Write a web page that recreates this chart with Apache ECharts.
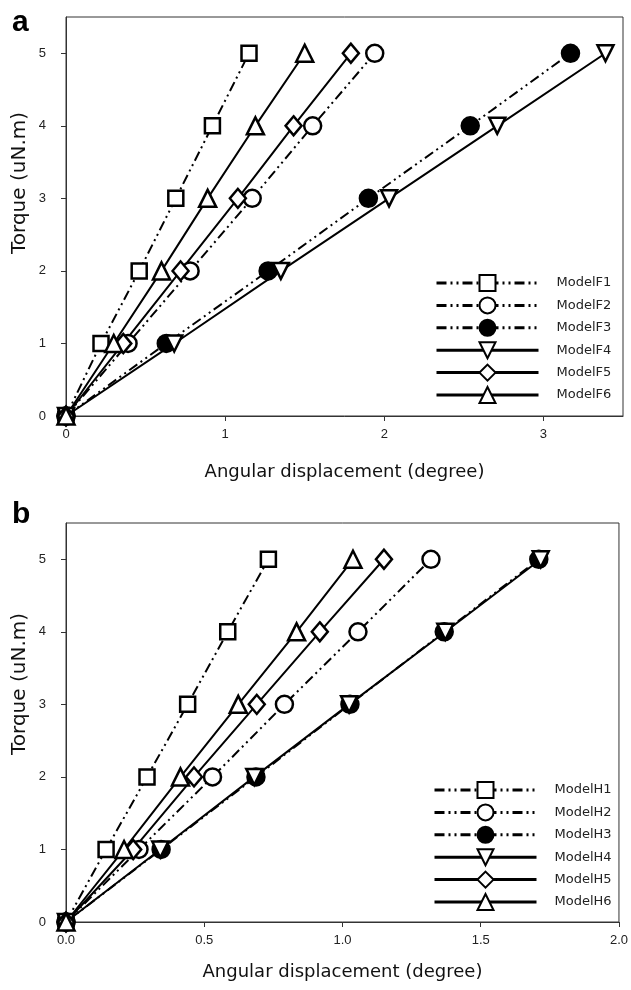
<!DOCTYPE html>
<html lang="en">
  <head>
    <meta charset="UTF-8" />
    <title>Torque vs angular displacement</title>
    <script src="https://cdn.jsdelivr.net/npm/echarts@6.0.0/dist/echarts.min.js"></script>
    <style>
      body {
        margin: 0;
        padding: 0;
        background: #fff;
      }
      #main {
        width: 631px;
        height: 990px;
      }
    </style>
  </head>
  <body>
    <div id="main"></div>

    <script>
      // torque levels (uN.m), shared by every model
      const torque = [0, 1, 2, 3, 4, 5];

      // panel a: angular displacement (degree)
      const modelF1 = [0, 0.22, 0.46, 0.69, 0.92, 1.15];
      const modelF2 = [0, 0.39, 0.78, 1.17, 1.55, 1.94];
      const modelF3 = [0, 0.63, 1.27, 1.9, 2.54, 3.17];
      const modelF4 = [0, 0.68, 1.35, 2.03, 2.71, 3.39];
      const modelF5 = [0, 0.36, 0.72, 1.08, 1.43, 1.79];
      const modelF6 = [0, 0.3, 0.6, 0.89, 1.19, 1.5];

      // panel b
      const modelH1 = [0, 0.145, 0.293, 0.44, 0.585, 0.732];
      const modelH2 = [0, 0.264, 0.53, 0.79, 1.056, 1.32];
      const modelH3 = [0, 0.344, 0.687, 1.027, 1.368, 1.71];
      const modelH4 = [0, 0.341, 0.681, 1.024, 1.372, 1.717];
      const modelH5 = [0, 0.243, 0.463, 0.69, 0.918, 1.15];
      const modelH6 = [0, 0.21, 0.414, 0.623, 0.834, 1.038];

      const namesA = ["ModelF1", "ModelF2", "ModelF3", "ModelF4", "ModelF5", "ModelF6"];
      const namesB = ["ModelH1", "ModelH2", "ModelH3", "ModelH4", "ModelH5", "ModelH6"];
      const xTicksA = [0, 1, 2, 3];
      const xTicksB = [0, 0.5, 1, 1.5, 2];
      const yTicks = [0, 1, 2, 3, 4, 5];

      const dashDotDot = [10, 4, 2, 4, 2, 4];
      // marker + line style per model slot (1..6)
      const looks = [
        { symbol: "rect", size: 15, fill: "#fff", dash: dashDotDot },
        { symbol: "circle", size: 17, fill: "#fff", dash: dashDotDot },
        { symbol: "circle", size: 17, fill: "#000", dash: dashDotDot },
        { symbol: "triangle", size: 16, fill: "#fff", dash: "solid", rotate: 180 },
        { symbol: "diamond", size: [16, 19], fill: "#fff", dash: "solid" },
        { symbol: "triangle", size: 17, fill: "#fff", dash: "solid" },
      ];

      function pairs(xs) {
        return xs.map((x, i) => [x, torque[i]]);
      }

      function makeSeries(name, xs, look, axisIdx) {
        return {
          name: name,
          type: "line",
          xAxisIndex: axisIdx,
          yAxisIndex: axisIdx,
          data: pairs(xs),
          symbol: look.symbol,
          symbolSize: look.size,
          symbolRotate: look.rotate || 0,
          showAllSymbol: true,
          animation: false,
          lineStyle: { color: "#000", width: 2, type: look.dash, cap: "butt" },
          itemStyle: { color: look.fill, borderColor: "#000", borderWidth: 2.5 },
          emphasis: { disabled: true },
        };
      }

      const seriesA = [modelF1, modelF2, modelF3, modelF4, modelF5, modelF6];
      const seriesB = [modelH1, modelH2, modelH3, modelH4, modelH5, modelH6];

      const labelFont = { color: "#222", fontSize: 13, fontFamily: "Liberation Sans, Arial, sans-serif" };

      function xAxisFor(grid, max, ticks, fmt, gap) {
        return {
          type: "value",
          gridIndex: grid,
          min: 0,
          max: max,
          name: "Angular displacement (degree)",
          nameLocation: "middle",
          nameGap: gap,
          nameTextStyle: { color: "#111", fontSize: 18, fontFamily: "DejaVu Sans, sans-serif" },
          axisLine: { onZero: false, lineStyle: { color: "#333", width: 1 } },
          axisTick: { show: true, length: 5, customValues: ticks, lineStyle: { color: "#333" } },
          axisLabel: Object.assign({ margin: 12, customValues: ticks, formatter: fmt }, labelFont),
          splitLine: { show: false },
        };
      }

      function yAxisFor(grid) {
        return {
          type: "value",
          gridIndex: grid,
          min: 0,
          max: 5.5,
          axisLine: { onZero: false, lineStyle: { color: "#333", width: 1 } },
          axisTick: { show: true, length: 5, customValues: yTicks, lineStyle: { color: "#333" } },
          axisLabel: Object.assign({ margin: 20, customValues: yTicks }, labelFont),
          splitLine: { show: false },
        };
      }

      function legendFor(names, left, top) {
        return {
          data: names,
          orient: "vertical",
          left: left,
          top: top,
          itemWidth: 102,
          itemHeight: 20,
          itemGap: 4.4,
          selectedMode: false,
          lineStyle: { width: 3 },
          textStyle: {
            color: "#222",
            fontSize: 13,
            fontFamily: "DejaVu Sans, sans-serif",
            padding: [0, 0, 0, 13],
          },
        };
      }

      const chart = echarts.init(document.getElementById("main"), null, { renderer: "canvas" });

      const option = {
        animation: false,
        backgroundColor: "#fff",
        grid: [
          { left: 66, right: 8, top: 17, height: 399, show: true, borderColor: "#333", borderWidth: 1 },
          { left: 66, right: 8, top: 523, height: 399, show: true, borderColor: "#333", borderWidth: 1 },
        ],
        xAxis: [
          xAxisFor(0, 3.5, xTicksA, (v) => String(v), 47),
          xAxisFor(1, 2, xTicksB, (v) => v.toFixed(1), 41),
        ],
        yAxis: [yAxisFor(0), yAxisFor(1)],
        legend: [legendFor(namesA, 430, 269), legendFor(namesB, 428, 776)],
        graphic: [
          {
            type: "text",
            left: 12,
            top: 8,
            style: { text: "a", font: "bold 30px Liberation Sans, Arial, sans-serif", fill: "#000" },
          },
          {
            type: "text",
            left: 12,
            top: 500,
            style: { text: "b", font: "bold 30px Liberation Sans, Arial, sans-serif", fill: "#000" },
          },
          {
            type: "text",
            x: 20,
            y: 183,
            rotation: Math.PI / 2,
            style: {
              text: "Torque (uN.m)",
              font: "20px DejaVu Sans, sans-serif",
              fill: "#111",
              align: "center",
              verticalAlign: "middle",
            },
          },
          {
            type: "text",
            x: 20,
            y: 684,
            rotation: Math.PI / 2,
            style: {
              text: "Torque (uN.m)",
              font: "20px DejaVu Sans, sans-serif",
              fill: "#111",
              align: "center",
              verticalAlign: "middle",
            },
          },
        ],
        series: [
          ...seriesA.map((xs, i) => makeSeries(namesA[i], xs, looks[i], 0)),
          ...seriesB.map((xs, i) => makeSeries(namesB[i], xs, looks[i], 1)),
        ],
      };

      chart.setOption(option);
    </script>
  </body>
</html>
